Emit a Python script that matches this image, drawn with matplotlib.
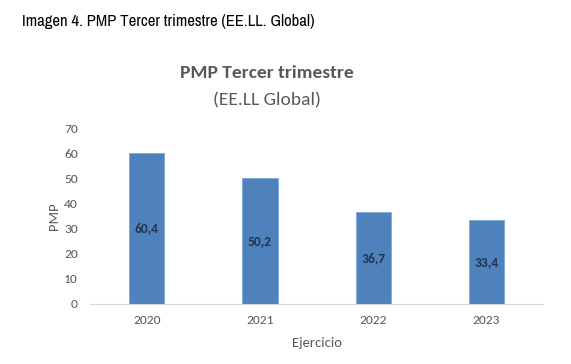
import matplotlib
matplotlib.use("Agg")
import matplotlib.pyplot as plt
from matplotlib import font_manager

categories = ["2020", "2021", "2022", "2023"]
values = [60.4, 50.2, 36.7, 33.4]
labels = ["60,4", "50,2", "36,7", "33,4"]
yticks = [0, 10, 20, 30, 40, 50, 60, 70]

names = {f.name for f in font_manager.fontManager.ttflist}
if "Liberation Sans Narrow" in names:
    narrow = "Liberation Sans Narrow"
elif "Archivo Narrow" in names:
    narrow = "Archivo Narrow"
else:
    narrow = "Liberation Sans"
main_font = "Carlito" if "Carlito" in names else "Open Sans"

fig = plt.figure(figsize=(5.71, 3.64), dpi=100)
ax = fig.add_axes([0.158, 0.165, 0.793, 0.481])

x = range(len(categories))
ax.bar(x, values, width=0.31, color="#4F81BD", edgecolor="#7EA6D8", linewidth=0.6, zorder=2)
for xi, v, lab in zip(x, values, labels):
    ax.text(xi, v / 2, lab, ha="center", va="center", fontsize=9.7, fontweight="bold",
            color="#22344F", family=main_font)

ax.set_xlim(-0.5, len(categories) - 0.5)
ax.set_ylim(0, 70)
ax.set_yticks(yticks)
ax.set_xticks(list(x))
ax.set_xticklabels(categories)
for s in ["top", "right", "left"]:
    ax.spines[s].set_visible(False)
ax.spines["bottom"].set_color("#D9D9D9")
ax.tick_params(axis="both", length=0, labelsize=9.7, labelcolor="#595959")
ax.tick_params(axis="x", pad=8)
ax.tick_params(axis="y", pad=9)
for t in ax.get_xticklabels() + ax.get_yticklabels():
    t.set_family(main_font)

ax.set_xlabel("Ejercicio", fontsize=10.5, color="#595959", family=main_font, labelpad=8)
ax.set_ylabel("PMP", fontsize=10.5, color="#595959", family=main_font, labelpad=3)

fig.text(0.038, 0.94, "Imagen 4. PMP Tercer trimestre (EE.LL. Global)", fontsize=12,
         family=narrow, color="#000000", ha="left", va="center")
fig.text(0.467, 0.80, "PMP Tercer trimestre", fontsize=14, fontweight="bold",
         family=main_font, color="#595959", ha="center", va="center")
fig.text(0.467, 0.725, "(EE.LL Global)", fontsize=14,
         family=main_font, color="#595959", ha="center", va="center")

fig.savefig("out.png", dpi=100)
